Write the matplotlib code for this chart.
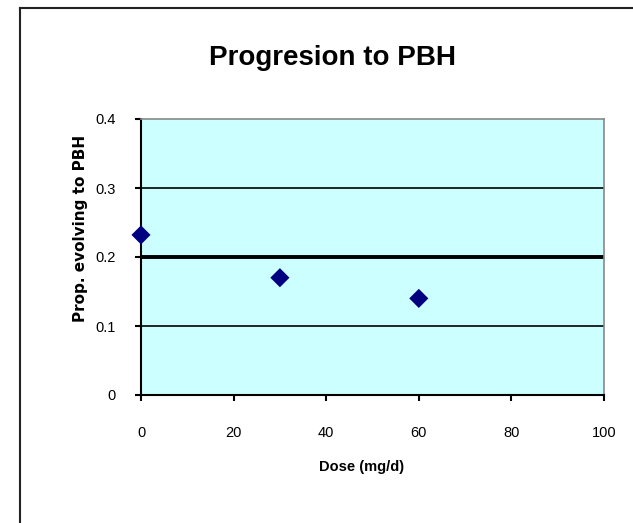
import matplotlib
matplotlib.use("Agg")
import matplotlib.pyplot as plt
from matplotlib.lines import Line2D

dose = [0, 30, 60]
prop = [0.232, 0.170, 0.140]
xticks = [0, 20, 40, 60, 80, 100]
yticks = [0, 0.1, 0.2, 0.3, 0.4]
ytick_labels = ["0", "0.1", "0.2", "0.3", "0.4"]

W, H = 633, 523
plt.rcParams['font.family'] = ['Liberation Sans', 'DejaVu Sans']
fig = plt.figure(figsize=(W / 100, H / 100), dpi=100)

# outer chart border (top and left visible)
fig.add_artist(Line2D([20 / W, 20 / W], [0, 1 - 8 / H], color='#222222', lw=1.5, transform=fig.transFigure))
fig.add_artist(Line2D([20 / W, 1], [1 - 8 / H, 1 - 8 / H], color='#222222', lw=1.5, transform=fig.transFigure))

left, right, top, bottom = 141, 604, 119, 395
ax = fig.add_axes([left / W, 1 - bottom / H, (right - left) / W, (bottom - top) / H])
ax.set_facecolor('#ccffff')
ax.set_xlim(0, 100)
ax.set_ylim(0, 0.4)

for y in [0.1, 0.3]:
    ax.axhline(y, color='black', lw=1.2, zorder=1)
ax.axhline(0.2, color='black', lw=2.8, zorder=1)

ax.scatter(dose, prop, marker='D', s=95, color='#000080', zorder=3, edgecolors='none', clip_on=False)

ax.set_xticks(xticks)
ax.set_xticklabels([str(t) for t in xticks])
ax.set_yticks(yticks)
ax.set_yticklabels(ytick_labels)
ax.tick_params(axis='both', direction='out', length=4, width=1.5, labelsize=10.5, colors='black')
ax.tick_params(axis='x', pad=18)
ax.tick_params(axis='y', pad=14)

for s in ['top', 'right']:
    ax.spines[s].set_color('#888888')
    ax.spines[s].set_linewidth(1.2)
ax.spines['left'].set_color('black')
ax.spines['left'].set_linewidth(1.5)
ax.spines['bottom'].set_color('black')
ax.spines['bottom'].set_linewidth(1.5)

fig.text(362 / W, 1 - 467 / H, 'Dose (mg/d)', ha='center', va='center', fontsize=10.5, fontweight='bold')
fig.text(80 / W, 1 - 228 / H, 'Prop. evolving to PBH', ha='center', va='center', rotation=90,
         fontsize=11, fontweight='bold', family=['DejaVu Sans'])

fig.text(332 / W, 1 - 58 / H, 'Progresion to PBH', ha='center', va='center', fontsize=20, fontweight='bold')

fig.savefig('out.png', dpi=100)
